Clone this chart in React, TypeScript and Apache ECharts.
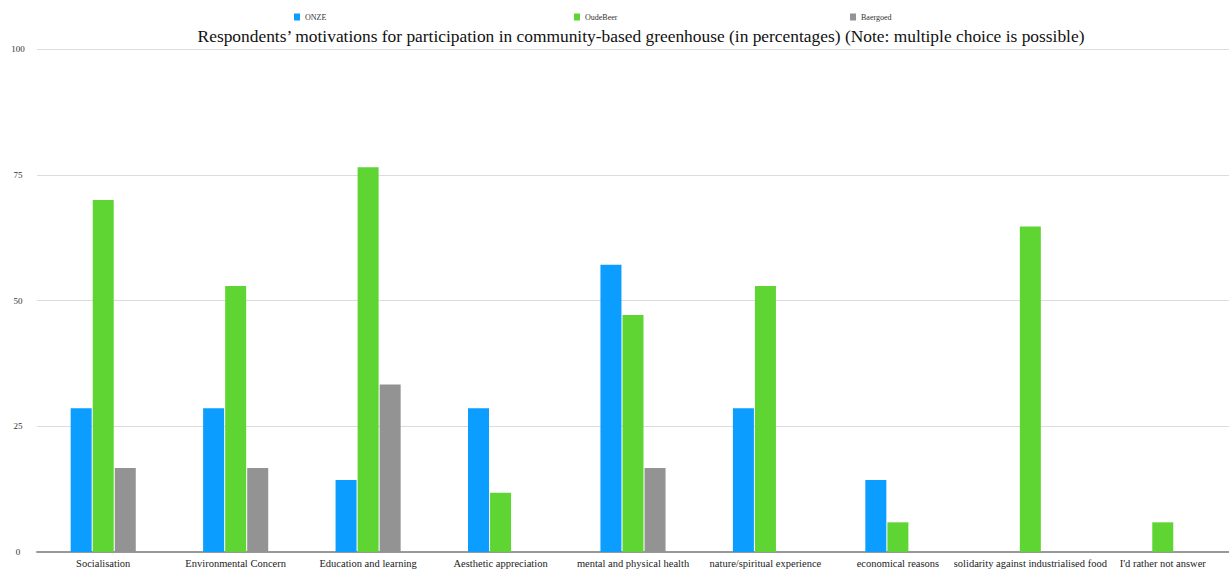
import React, { useEffect, useRef } from "react";
import * as echarts from "echarts";

const categories = [
  "Socialisation",
  "Environmental Concern",
  "Education and learning",
  "Aesthetic appreciation",
  "mental and physical health",
  "nature/spiritual experience",
  "economical reasons",
  "solidarity against industrialised food",
  "I'd rather not answer",
];
const onze = [28.6, 28.6, 14.3, 28.6, 57.1, 28.6, 14.3, 0, 0];
const oudeBeer = [70, 52.9, 76.5, 11.8, 47.1, 52.9, 5.9, 64.7, 5.9];
const baergoed = [16.7, 16.7, 33.3, 0, 16.7, 0, 0, 0, 0];
const yTicks = [0, 25, 50, 75, 100];

const FONT = "'Liberation Serif', 'Times New Roman', serif";

export default function App() {
  const ref = useRef<HTMLDivElement>(null);
  useEffect(() => {
    if (!ref.current) return;
    const chart = echarts.init(ref.current, undefined, { renderer: "svg" });
    const legendBase = {
      top: 8,
      itemWidth: 6,
      itemHeight: 7,
      icon: "rect",
      textStyle: { fontFamily: FONT, fontSize: 8, color: "#333" },
      selectedMode: false,
    };
    const toData = (arr: number[]) => arr.map((v) => (v === 0 ? null : v));
    chart.setOption({
      animation: false,
      backgroundColor: "#fff",
      title: {
        text: "Respondents’ motivations for participation in community-based greenhouse (in percentages) (Note: multiple choice is possible)",
        left: 636,
        top: 22,
        textAlign: "center",
        textStyle: { fontFamily: FONT, fontSize: 17.4, fontWeight: "normal", color: "#111" },
      },
      legend: [
        { ...legendBase, left: 289, data: ["ONZE"] },
        { ...legendBase, left: 569, data: ["OudeBeer"] },
        { ...legendBase, left: 845, data: ["Baergoed"] },
      ],
      grid: { left: 37, right: 0, top: 49, bottom: 19, containLabel: false },
      xAxis: {
        type: "category",
        data: categories,
        axisTick: { show: false },
        axisLine: { lineStyle: { color: "#999", width: 2 } },
        axisLabel: { fontFamily: FONT, fontSize: 10.5, color: "#222", margin: 6, interval: 0 },
      },
      yAxis: {
        type: "value",
        min: yTicks[0],
        max: yTicks[yTicks.length - 1],
        interval: 25,
        axisLine: { show: false },
        axisTick: { show: false },
        splitLine: { lineStyle: { color: "#dcdcdc", width: 1 } },
        axisLabel: { fontFamily: FONT, fontSize: 9, color: "#333", margin: 19, align: "center" },
      },
      series: [
        { name: "ONZE", type: "bar", data: toData(onze), itemStyle: { color: "#0b9dff" }, barWidth: 21, barGap: "5%" },
        { name: "OudeBeer", type: "bar", data: toData(oudeBeer), itemStyle: { color: "#5fd533" }, barWidth: 21, barGap: "5%" },
        { name: "Baergoed", type: "bar", data: toData(baergoed), itemStyle: { color: "#939393" }, barWidth: 21, barGap: "5%" },
      ],
    });
    return () => chart.dispose();
  }, []);
  return <div ref={ref} style={{ width: 1229, height: 571, position: "absolute", left: 0, top: 0 }} />;
}
